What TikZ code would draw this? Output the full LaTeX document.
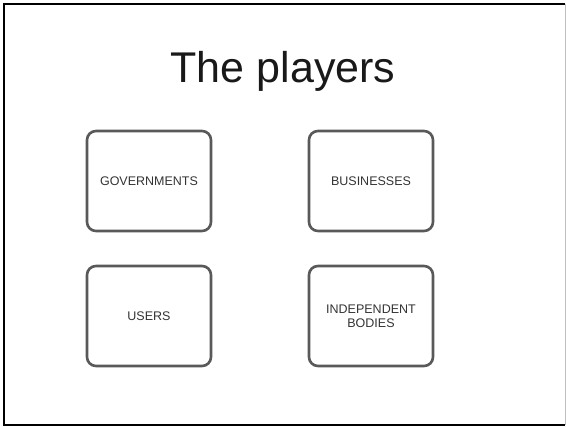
\documentclass[tikz,border=0pt]{standalone}
\usepackage{fontspec}
\setmainfont{Liberation Sans}
\begin{document}
\begin{tikzpicture}[x=1pt,y=-1pt,
  player/.style={draw=black!65, line width=2.6pt, rounded corners=9pt,
    minimum width=124pt, minimum height=100pt, align=center,
    font=\fontsize{12.5}{14}\selectfont, text=black!80, inner sep=2pt},
  titletext/.style={font=\fontsize{43}{50}\selectfont, text=black!90}]
\useasboundingbox (0,0) rectangle (566,427);
\draw[line width=2pt] (565,4) -- (4,4) -- (4,425) -- (565,425);
\draw[black!25, line width=1pt] (565,4) -- (565,425);
\node[titletext] (title) at (283,71) {The players};
\node[player] (gov) at (149,181) {GOVERNMENTS};
\node[player] (bus) at (371,181) {BUSINESSES};
\node[player] (users) at (149,316) {USERS};
\node[player] (indep) at (371,316) {INDEPENDENT\\BODIES};
\end{tikzpicture}
\end{document}
